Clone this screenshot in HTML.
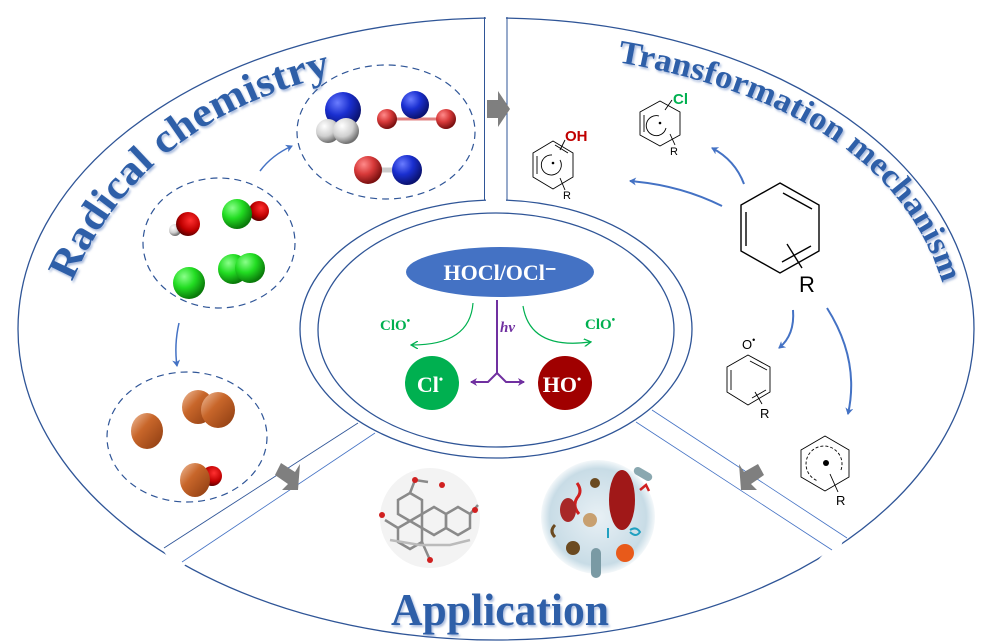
<!DOCTYPE html>
<html><head><meta charset="utf-8"><style>
html,body{margin:0;padding:0;background:#fff;width:991px;height:644px;overflow:hidden}
svg{display:block}
</style></head><body>
<svg width="991" height="644" viewBox="0 0 991 644" xmlns="http://www.w3.org/2000/svg">
<defs>
<radialGradient id="gB" cx="35%" cy="30%" r="70%"><stop offset="0" stop-color="#6a7cff"/><stop offset="0.5" stop-color="#1a2fd0"/><stop offset="1" stop-color="#0a1270"/></radialGradient>
<radialGradient id="gR" cx="35%" cy="30%" r="70%"><stop offset="0" stop-color="#ff8a8a"/><stop offset="0.5" stop-color="#d83a3a"/><stop offset="1" stop-color="#7a1010"/></radialGradient>
<radialGradient id="gRd" cx="60%" cy="35%" r="70%"><stop offset="0" stop-color="#ff3030"/><stop offset="0.6" stop-color="#c00000"/><stop offset="1" stop-color="#500000"/></radialGradient>
<radialGradient id="gW" cx="35%" cy="30%" r="70%"><stop offset="0" stop-color="#fff"/><stop offset="0.6" stop-color="#d0d0d0"/><stop offset="1" stop-color="#707070"/></radialGradient>
<radialGradient id="gG" cx="35%" cy="30%" r="70%"><stop offset="0" stop-color="#8aff8a"/><stop offset="0.5" stop-color="#22dd22"/><stop offset="1" stop-color="#0a7a0a"/></radialGradient>
<linearGradient id="gO" x1="0" y1="0" x2="1" y2="1"><stop offset="0" stop-color="#f0c0a0"/><stop offset="0.4" stop-color="#c8662a"/><stop offset="1" stop-color="#8a3a10"/></linearGradient>
<radialGradient id="gM" cx="50%" cy="50%" r="50%"><stop offset="0" stop-color="#e8f0f5"/><stop offset="0.85" stop-color="#c8dce6"/><stop offset="1" stop-color="#f4f8fa"/></radialGradient>
<marker id="ab" markerWidth="8" markerHeight="8" refX="6" refY="4" orient="auto" markerUnits="userSpaceOnUse"><path d="M0,0 L7,4 L0,8 L2,4 z" fill="#4472c4"/></marker>
<marker id="ag" markerWidth="8" markerHeight="8" refX="6" refY="4" orient="auto" markerUnits="userSpaceOnUse"><path d="M0,0 L7,4 L0,8" fill="none" stroke="#00b050" stroke-width="1.3"/></marker>
<marker id="ap" markerWidth="8" markerHeight="8" refX="6" refY="4" orient="auto" markerUnits="userSpaceOnUse"><path d="M0,0 L7,4 L0,8 L2,4 z" fill="#7030a0"/></marker>
<filter id="sh" x="-5%" y="-5%" width="110%" height="120%"><feDropShadow dx="1.5" dy="2" stdDeviation="1" flood-color="#6f8fc8" flood-opacity="0.6"/></filter>
<path id="p1" d="M72,282 Q145,112 355,70"/>
<path id="p2" d="M617,62 Q905,112 948,305"/>
</defs>

<ellipse cx="496" cy="329" rx="478" ry="311" fill="none" stroke="#2f5597" stroke-width="1.3"/>
<rect x="486" y="8" width="20" height="30" fill="#fff"/>
<polygon points="160,546 172,535 190,560 178,572" fill="#fff"/>
<polygon points="831,546 845,535 832,572 818,560" fill="#fff"/>
<line x1="484.5" y1="17" x2="484.5" y2="200" stroke="#2f5597" stroke-width="1"/>
<line x1="507" y1="17" x2="507" y2="200" stroke="#2f5597" stroke-width="1"/>
<ellipse cx="496" cy="329" rx="196" ry="129" fill="none" stroke="#2f5597" stroke-width="1.3"/>
<rect x="486" y="195" width="20" height="10" fill="#fff"/>
<ellipse cx="496" cy="330" rx="178" ry="117" fill="none" stroke="#2f5597" stroke-width="1.3"/>
<line x1="358" y1="423" x2="164" y2="548" stroke="#2f5597" stroke-width="0.9"/>
<line x1="375" y1="433" x2="182" y2="562" stroke="#4472c4" stroke-width="0.8"/>
<line x1="636" y1="422" x2="832" y2="550" stroke="#4472c4" stroke-width="0.8"/>
<line x1="652" y1="410" x2="847" y2="538" stroke="#4472c4" stroke-width="0.8"/>

<polygon points="487,100 498,100 498,91 510,109 498,127 498,118 487,118" fill="#7f7f7f"/>
<polygon points="281,463 295,472 300,464 298,490 282,490 288,484 275,475" fill="#7f7f7f"/>
<polygon points="758,464 744,472 739,464 741,490 757,490 751,484 764,475" fill="#7f7f7f"/>

<g font-family="Liberation Serif, serif" font-weight="bold" fill="#2f5fa8" filter="url(#sh)">
<text font-size="41"><textPath href="#p1" textLength="345" lengthAdjust="spacingAndGlyphs">Radical chemistry</textPath></text>
<text font-size="33"><textPath href="#p2" textLength="415" lengthAdjust="spacingAndGlyphs">Transformation mechanism</textPath></text>
<text x="500" y="625" font-size="46" text-anchor="middle" textLength="218" lengthAdjust="spacingAndGlyphs">Application</text>
</g>

<g fill="none" stroke="#2f5597" stroke-width="1.2" stroke-dasharray="7,5">
<ellipse cx="219" cy="243" rx="76" ry="65"/>
<ellipse cx="386" cy="132" rx="89" ry="67"/>
<ellipse cx="187" cy="437" rx="80" ry="65"/>
</g>
<path d="M260,171 Q272,155 292,146" fill="none" stroke="#4472c4" stroke-width="1.5" marker-end="url(#ab)"/>
<path d="M179,323 Q174,345 177,366" fill="none" stroke="#4472c4" stroke-width="1.5" marker-end="url(#ab)"/>

<circle cx="343" cy="110" r="18" fill="url(#gB)"/>
<circle cx="328" cy="131" r="12" fill="url(#gW)"/>
<circle cx="346" cy="131" r="13" fill="url(#gW)"/>
<line x1="387" y1="119" x2="446" y2="119" stroke="#e08080" stroke-width="3"/>
<circle cx="387" cy="119" r="10" fill="url(#gR)"/>
<circle cx="415" cy="105" r="14" fill="url(#gB)"/>
<circle cx="446" cy="119" r="10" fill="url(#gR)"/>
<line x1="368" y1="170" x2="407" y2="170" stroke="#ccc" stroke-width="5"/>
<circle cx="368" cy="170" r="14" fill="url(#gR)"/>
<circle cx="407" cy="170" r="15" fill="url(#gB)"/>
<circle cx="175" cy="230" r="6" fill="url(#gW)"/>
<circle cx="188" cy="224" r="12" fill="url(#gRd)"/>
<circle cx="259" cy="211" r="10" fill="url(#gRd)"/>
<circle cx="237" cy="214" r="15" fill="url(#gG)"/>
<circle cx="189" cy="283" r="16" fill="url(#gG)"/>
<circle cx="233" cy="269" r="15" fill="url(#gG)"/>
<circle cx="250" cy="268" r="15" fill="url(#gG)"/>
<ellipse cx="147" cy="431" rx="16" ry="18" fill="url(#gO)"/>
<ellipse cx="198" cy="407" rx="16" ry="17" fill="url(#gO)"/>
<ellipse cx="218" cy="410" rx="17" ry="18" fill="url(#gO)"/>
<circle cx="212" cy="476" r="10" fill="url(#gRd)"/>
<ellipse cx="195" cy="480" rx="15" ry="17" fill="url(#gO)"/>

<ellipse cx="500" cy="272" rx="94" ry="25" fill="#4472c4"/>
<text x="500" y="280" font-family="Liberation Serif, serif" font-weight="bold" font-size="22" fill="#fff" text-anchor="middle">HOCl/OCl⁻</text>
<path d="M473,303 Q470,345 412,345" fill="none" stroke="#00b050" stroke-width="1.2" marker-end="url(#ag)"/>
<path d="M523,306 Q530,350 590,342" fill="none" stroke="#00b050" stroke-width="1.2" marker-end="url(#ag)"/>
<text x="380" y="330" font-family="Liberation Serif, serif" font-weight="bold" font-size="15" fill="#00b050">ClO<tspan font-size="10" dy="-6">•</tspan></text>
<text x="585" y="329" font-family="Liberation Serif, serif" font-weight="bold" font-size="15" fill="#00b050">ClO<tspan font-size="10" dy="-6">•</tspan></text>
<text x="500" y="332" font-family="Liberation Serif, serif" font-weight="bold" font-style="italic" font-size="15" fill="#7030a0">hv</text>
<path d="M497,300 L497,373 M497,373 L488,382 L472,382 M497,373 L506,382 L523,382" fill="none" stroke="#7030a0" stroke-width="2"/>
<path d="M480,382 L471,382" stroke="#7030a0" stroke-width="2" marker-end="url(#ap)"/>
<path d="M515,382 L524,382" stroke="#7030a0" stroke-width="2" marker-end="url(#ap)"/>
<circle cx="432" cy="383" r="27" fill="#00b050"/>
<text x="430" y="392" font-family="Liberation Serif, serif" font-weight="bold" font-size="22" fill="#fff" text-anchor="middle">Cl<tspan font-size="12" dy="-9">•</tspan></text>
<circle cx="565" cy="383" r="27" fill="#a00000"/>
<text x="562" y="392" font-family="Liberation Serif, serif" font-weight="bold" font-size="22" fill="#fff" text-anchor="middle">HO<tspan font-size="12" dy="-9">•</tspan></text>

<g fill="none" stroke="#000" stroke-width="1.4">
<polygon points="780,183 819,205 819,251 780,273 741,251 741,205"/>
<line x1="783" y1="193" x2="812" y2="209"/>
<line x1="746" y1="212" x2="746" y2="246"/>
<line x1="782" y1="262" x2="811" y2="246"/>
<line x1="787" y1="244" x2="802" y2="268"/>
</g>
<text x="799" y="292" font-family="Liberation Sans, sans-serif" font-size="22" fill="#000">R</text>
<g fill="none" stroke="#000" stroke-width="0.9">
<polygon points="553,141 573,153 573,177 553,189 533,177 533,153"/>
<line x1="537" y1="156" x2="537" y2="174"/>
<line x1="555" y1="145" x2="568" y2="153"/>
<path d="M560,160 A10,10 0 1 1 552,155"/>
<line x1="560" y1="150" x2="565" y2="140"/>
<line x1="560" y1="178" x2="565" y2="190"/>
<polygon points="660,101 680,112 680,135 660,146 640,135 640,112"/>
<line x1="644" y1="115" x2="644" y2="132"/>
<path d="M666,128 A10,10 0 1 1 659,116"/>
<line x1="665" y1="110" x2="672" y2="100"/>
<line x1="670" y1="134" x2="675" y2="145"/>
<polygon points="748,355 770,367 770,392 748,405 727,392 727,367"/>
<line x1="731" y1="370" x2="731" y2="390"/>
<line x1="750" y1="361" x2="767" y2="370"/>
<line x1="752" y1="398" x2="766" y2="390"/>
<line x1="755" y1="392" x2="762" y2="404"/>
<polygon points="825,436 849,450 849,477 825,491 801,477 801,450"/>
<path d="M841,470 A18,18 0 1 0 818,481" stroke-dasharray="3,2"/>
<line x1="830" y1="474" x2="838" y2="492"/>
</g>
<circle cx="553" cy="163" r="1.3" fill="#000"/>
<circle cx="660" cy="123" r="1.3" fill="#000"/>
<circle cx="826" cy="463" r="3" fill="#000"/>
<text x="565" y="141" font-family="Liberation Sans, sans-serif" font-weight="bold" font-size="15" fill="#c00000">OH</text>
<text x="673" y="104" font-family="Liberation Sans, sans-serif" font-weight="bold" font-size="15" fill="#00b050">Cl</text>
<text x="563" y="199" font-family="Liberation Sans, sans-serif" font-size="11" fill="#000">R</text>
<text x="670" y="155" font-family="Liberation Sans, sans-serif" font-size="11" fill="#000">R</text>
<text x="742" y="349" font-family="Liberation Sans, sans-serif" font-size="13" fill="#000">O<tspan font-size="9" dy="-6">•</tspan></text>
<text x="760" y="418" font-family="Liberation Sans, sans-serif" font-size="13" fill="#000">R</text>
<text x="836" y="505" font-family="Liberation Sans, sans-serif" font-size="13" fill="#000">R</text>
<g fill="none" stroke="#4472c4" stroke-width="2">
<path d="M722,206 Q680,185 630,181" marker-end="url(#ab)"/>
<path d="M744,184 Q735,160 712,148" marker-end="url(#ab)"/>
<path d="M793,310 Q795,335 779,348" marker-end="url(#ab)"/>
<path d="M827,308 Q860,360 848,414" marker-end="url(#ab)"/>
</g>

<circle cx="430" cy="518" r="50" fill="#f3f3f3"/>
<g fill="none" stroke="#8a8a8a" stroke-width="2.5">
<polygon points="398,500 410,493 422,500 422,514 410,521 398,514"/>
<polygon points="422,514 434,507 446,514 446,528 434,535 422,528"/>
<polygon points="446,514 458,507 470,514 470,528 458,535 446,528"/>
<polygon points="410,521 422,528 422,542 410,549 398,542 398,528"/>
<path d="M410,493 L415,480 L428,482 M470,514 L478,505 M422,542 L430,560 M398,528 L385,520"/>
<path d="M390,540 L420,545 L450,545 L470,540" stroke="#bbb"/>
</g>
<g fill="#d02020"><circle cx="415" cy="480" r="3"/><circle cx="475" cy="510" r="3"/><circle cx="430" cy="560" r="3"/><circle cx="382" cy="515" r="3"/><circle cx="442" cy="485" r="3"/></g>
<circle cx="598" cy="517" r="57" fill="url(#gM)"/>
<ellipse cx="622" cy="500" rx="13" ry="30" fill="#a01818"/>
<path d="M577,483 q6,8 0,15 q-5,8 2,16" stroke="#d02020" stroke-width="3" fill="none"/>
<ellipse cx="568" cy="510" rx="8" ry="12" fill="#a82828"/>
<circle cx="595" cy="483" r="5" fill="#6b4a20"/>
<circle cx="573" cy="548" r="7" fill="#6b4a20"/>
<rect x="591" y="548" width="10" height="30" rx="5" fill="#7a9aa4"/>
<circle cx="625" cy="553" r="9" fill="#e85a1a"/>
<circle cx="590" cy="520" r="7" fill="#c8a070"/>
<path d="M640,490 l6,-5 l3,6" stroke="#d02020" stroke-width="2.5" fill="none"/>
<rect x="633" y="470" width="20" height="8" rx="4" fill="#8aa8b0" transform="rotate(30 643 474)"/>
<path d="M555,525 q-6,6 0,12" stroke="#6b4a20" stroke-width="3" fill="none"/>
<path d="M608,528 l0,10 M630,530 q6,-4 10,2 q-4,6 -10,0" stroke="#20a0c0" stroke-width="2" fill="none"/>
</svg>
</body></html>
